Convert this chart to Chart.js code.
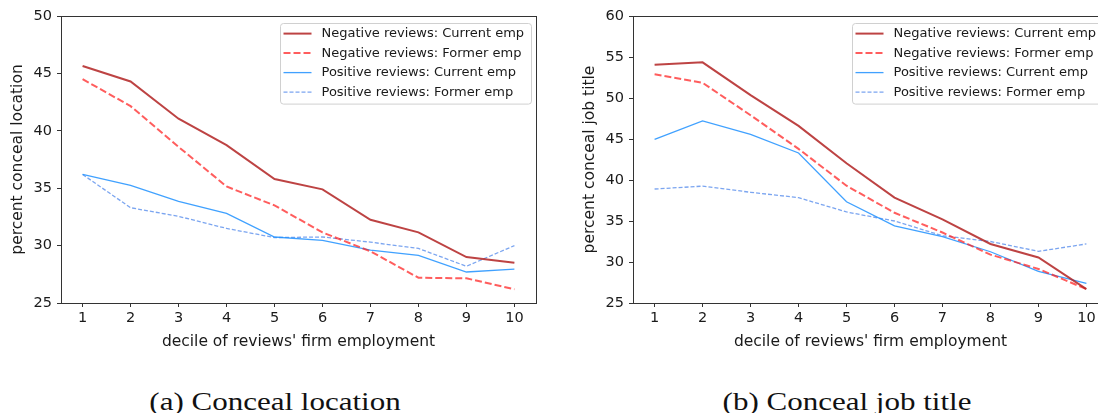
<!DOCTYPE html>
<html>
<head>
<meta charset="utf-8">
<script src="https://cdn.jsdelivr.net/npm/chart.js@4.4.1/dist/chart.umd.min.js"></script>
<style>
  html, body { margin: 0; padding: 0; background: #fff; overflow: hidden; width: 1098px; height: 413px; }
  #wrap { position: relative; width: 1098px; height: 413px; overflow: hidden; }
  canvas { position: absolute; top: 0; }
  #c1 { left: 0; }
  #c2 { left: 572px; }
  .cap { position: absolute; top: 389px; font-family: "Liberation Serif", serif; font-size: 25px; line-height: 25px; color: #111; white-space: nowrap; transform: translateX(-50%) scaleX(1.24); }
</style>
</head>
<body>
<div id="wrap">
  <canvas id="c1" width="545" height="360"></canvas>
  <canvas id="c2" width="545" height="360"></canvas>
  <div class="cap" style="left:275px">(a) Conceal location</div>
  <div class="cap" style="left:847px">(b) Conceal job title</div>
</div>
<script>
// ---- data ----
const deciles = [1, 2, 3, 4, 5, 6, 7, 8, 9, 10];
const xTickLabels = ['1', '2', '3', '4', '5', '6', '7', '8', '9', '10'];
const seriesNames = ['Negative reviews: Current emp', 'Negative reviews: Former emp', 'Positive reviews: Current emp', 'Positive reviews: Former emp'];

// (a) Conceal location
const negCurLoc = [45.65, 44.3, 41.05, 38.75, 35.8, 34.9, 32.25, 31.15, 29.0, 28.5];
const negForLoc = [44.5, 42.15, 38.6, 35.15, 33.5, 31.15, 29.5, 27.2, 27.15, 26.2];
const posCurLoc = [36.2, 35.25, 33.85, 32.8, 30.75, 30.45, 29.6, 29.15, 27.7, 27.95];
const posForLoc = [36.2, 33.3, 32.55, 31.5, 30.7, 30.75, 30.3, 29.75, 28.2, 30.0];

// (b) Conceal job title
const negCurJob = [54.05, 54.35, 50.35, 46.6, 42.05, 37.85, 35.2, 32.2, 30.55, 26.7];
const negForJob = [52.9, 51.85, 47.9, 43.8, 39.3, 36.0, 33.6, 30.9, 29.15, 26.7];
const posCurJob = [44.95, 47.2, 45.55, 43.3, 37.35, 34.4, 33.1, 31.25, 28.85, 27.4];
const posForJob = [38.9, 39.25, 38.5, 37.85, 36.1, 35.0, 33.2, 32.5, 31.3, 32.2];

const yTicksLoc = [25, 30, 35, 40, 45, 50];
const yTicksJob = [25, 30, 35, 40, 45, 50, 55, 60];

// ---- styles ----
const styles = [
  { color: 'rgba(178,34,34,0.85)', width: 2, dash: [] },
  { color: 'rgba(255,30,30,0.72)', width: 2, dash: [7, 3] },
  { color: 'rgba(30,144,255,0.85)', width: 1.3, dash: [] },
  { color: 'rgba(100,149,237,0.85)', width: 1.3, dash: [4, 2] }
];

Chart.defaults.font.family = 'DejaVu Sans';
Chart.defaults.color = '#1a1a1a';

function toPts(arr) { return deciles.map((d, i) => ({ x: d, y: arr[i] })); }

const framePlugin = {
  id: 'frame',
  afterDatasetsDraw(chart) {
    const { ctx, chartArea: a } = chart;
    ctx.save();
    ctx.strokeStyle = '#333';
    ctx.lineWidth = 1;
    ctx.strokeRect(Math.round(a.left) + 0.5, Math.round(a.top) + 0.5, Math.round(a.right - a.left), Math.round(a.bottom - a.top));
    ctx.restore();
  }
};

const legendPlugin = {
  id: 'boxLegend',
  afterDraw(chart) {
    const { ctx, chartArea: a } = chart;
    const w = 251, h = 80.6;
    const x = a.right - 5 - w, y = a.top + 7;
    ctx.save();
    ctx.fillStyle = 'rgba(255,255,255,0.85)';
    ctx.strokeStyle = '#d0d0d0';
    ctx.lineWidth = 1;
    ctx.beginPath();
    ctx.roundRect(Math.round(x) + 0.5, Math.round(y) + 0.5, w, h, 3);
    ctx.fill();
    ctx.stroke();
    ctx.font = '13px "DejaVu Sans"';
    ctx.textBaseline = 'middle';
    ctx.textAlign = 'left';
    chart.data.datasets.forEach((ds, i) => {
      const ry = y + 10.6 + i * 19.5;
      ctx.strokeStyle = ds.borderColor;
      ctx.lineWidth = ds.borderWidth;
      ctx.setLineDash(ds.borderDash || []);
      ctx.beginPath();
      ctx.moveTo(x + 3.5, ry);
      ctx.lineTo(x + 31.5, ry);
      ctx.stroke();
      ctx.setLineDash([]);
      ctx.fillStyle = '#1a1a1a';
      ctx.fillText(ds.label, x + 41.5, ry + 0.5);
    });
    ctx.restore();
  }
};

function makeChart(id, series, yTicks, yTitle) {
  const datasets = series.map((arr, i) => ({
    label: seriesNames[i],
    data: toPts(arr),
    borderColor: styles[i].color,
    borderWidth: styles[i].width,
    borderDash: styles[i].dash,
    pointRadius: 0,
    tension: 0,
    fill: false
  }));
  return new Chart(document.getElementById(id), {
    type: 'line',
    data: { datasets },
    options: {
      responsive: false,
      animation: false,
      events: [],
      layout: { padding: { top: 16, right: 9, left: 0, bottom: 0 } },
      plugins: { legend: { display: false }, tooltip: { enabled: false } },
      scales: {
        x: {
          type: 'linear',
          min: deciles[0] - 0.45,
          max: deciles[deciles.length - 1] + 0.45,
          afterBuildTicks: s => { s.ticks = deciles.map(v => ({ value: v })); },
          afterFit: s => { s.height = 57; },
          ticks: {
            font: { size: 14.5 },
            color: '#1a1a1a',
            padding: 3,
            autoSkip: false,
            maxRotation: 0,
            callback: (v) => xTickLabels[deciles.indexOf(v)]
          },
          grid: { drawOnChartArea: false, drawTicks: true, tickLength: 4, tickColor: '#333', tickWidth: 1 },
          border: { display: false },
          title: { display: true, text: "decile of reviews' firm employment", font: { size: 15.5 }, color: '#1a1a1a', padding: { top: 0, bottom: 9 } }
        },
        y: {
          type: 'linear',
          min: yTicks[0],
          max: yTicks[yTicks.length - 1],
          afterBuildTicks: s => { s.ticks = yTicks.map(v => ({ value: v })); },
          afterFit: s => { s.width = 61; },
          ticks: { font: { size: 14.5 }, color: '#1a1a1a', padding: 5 },
          grid: { drawOnChartArea: false, drawTicks: true, tickLength: 4, tickColor: '#333', tickWidth: 1 },
          border: { display: false },
          title: { display: true, text: yTitle, font: { size: 15.5 }, color: '#1a1a1a', padding: { top: 9, bottom: 0 } }
        }
      }
    },
    plugins: [framePlugin, legendPlugin]
  });
}

makeChart('c1', [negCurLoc, negForLoc, posCurLoc, posForLoc], yTicksLoc, 'percent conceal location');
makeChart('c2', [negCurJob, negForJob, posCurJob, posForJob], yTicksJob, 'percent conceal job title');
</script>
</body>
</html>
